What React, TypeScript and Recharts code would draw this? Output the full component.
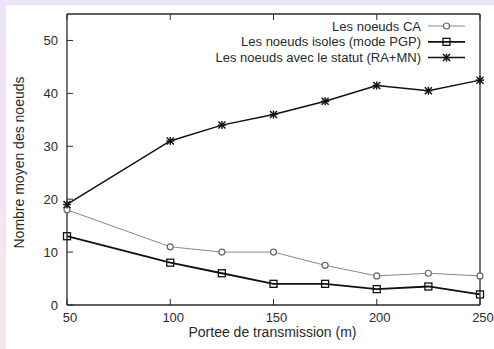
import React from "react";
import { LineChart, Line, XAxis, YAxis, Legend } from "recharts";

const distances = [50, 100, 125, 150, 175, 200, 225, 250];
const caValues = [18, 11, 10, 10, 7.5, 5.5, 6, 5.5];
const pgpValues = [13, 8, 6, 4, 4, 3, 3.5, 2];
const ramnValues = [19, 31, 34, 36, 38.5, 41.5, 40.5, 42.5];

const xTicks = [50, 100, 150, 200, 250];
const yTicks = [0, 10, 20, 30, 40, 50];

const seriesKeys = ["ca", "pgp", "ramn"];
const seriesNames: any = {
    ca: "Les noeuds CA",
    pgp: "Les noeuds isoles (mode PGP)",
    ramn: "Les noeuds avec le statut (RA+MN)",
};

const data = distances.map((d, i) => ({
    d,
    ca: caValues[i],
    pgp: pgpValues[i],
    ramn: ramnValues[i],
}));

const FONT = "'Liberation Sans', Arial, Helvetica, sans-serif";
const INK = "#2a2a2a";
const FS = 13;

const Circle = ({ cx, cy }: any) => (
    <circle cx={cx} cy={cy} r={3} fill="#fff" stroke="#666" strokeWidth={1.2} />
);
const Square = ({ cx, cy }: any) => (
    <rect x={cx - 3.5} y={cy - 3.5} width={7} height={7} fill="none" stroke="#111" strokeWidth={1.3} />
);
const Star = ({ cx, cy }: any) => (
    <g stroke="#111" strokeWidth={1.4}>
        <line x1={cx - 3.5} y1={cy - 3.5} x2={cx + 3.5} y2={cy + 3.5} />
        <line x1={cx - 3.5} y1={cy + 3.5} x2={cx + 3.5} y2={cy - 3.5} />
        <line x1={cx - 4} y1={cy} x2={cx + 4} y2={cy} />
        <line x1={cx} y1={cy - 4} x2={cx} y2={cy + 4} />
    </g>
);

const dotFor = (Shape: any) => (props: any) => (
    <Shape key={`dot-${props.index}`} cx={props.cx} cy={props.cy} />
);

// gnuplot style ticks: pointing inwards, labels outside
const BottomTick = ({ x, y, payload }: any) => (
    <g>
        <line x1={x} y1={y} x2={x} y2={y - 6} stroke={INK} />
        <text x={x + 3} y={y + 12} dy="0.36em" textAnchor="middle" fontSize={FS} fontFamily={FONT} fill={INK}>
            {payload.value}
        </text>
    </g>
);
const LeftTick = ({ x, y, payload }: any) => (
    <g>
        <line x1={x} y1={y} x2={x + 6} y2={y} stroke={INK} />
        <text x={x - 9} y={y} dy="0.36em" textAnchor="end" fontSize={FS} fontFamily={FONT} fill={INK}>
            {payload.value}
        </text>
    </g>
);
const TopTick = ({ x, y }: any) => <line x1={x} y1={y} x2={x} y2={y + 6} stroke={INK} />;
const RightTick = ({ x, y }: any) => <line x1={x} y1={y} x2={x - 6} y2={y} stroke={INK} />;

const styles: any = {
    ca: { stroke: "#888", width: 1, Shape: Circle },
    pgp: { stroke: "#111", width: 1.8, Shape: Square },
    ramn: { stroke: "#111", width: 1.5, Shape: Star },
};

const LegendBox = () => (
    <svg width={300} height={50}>
        {seriesKeys.map((k, i) => {
            const s = styles[k];
            const y = 8 + i * 15.8;
            return (
                <g key={k}>
                    <text x={251} y={y} dy="0.36em" textAnchor="end" fontSize={FS} fontFamily={FONT} fill={INK}>
                        {seriesNames[k]}
                    </text>
                    <line x1={258} y1={y} x2={295} y2={y} stroke={s.stroke} strokeWidth={s.width} />
                    <s.Shape cx={276.5} cy={y} />
                </g>
            );
        })}
    </svg>
);

const YLabel = ({ viewBox }: any) => {
    const cy = viewBox.y + viewBox.height / 2 + 3;
    return (
        <text x={19} y={cy} transform={`rotate(-90 19 ${cy})`} dy="0.36em" textAnchor="middle" fontSize={14} fontFamily={FONT} fill={INK}>
            Nombre moyen des noeuds
        </text>
    );
};
const XLabel = ({ viewBox }: any) => (
    <text x={viewBox.x + viewBox.width / 2 - 1} y={332} dy="0.36em" textAnchor="middle" fontSize={14} fontFamily={FONT} fill={INK}>
        Portee de transmission (m)
    </text>
);

export default function App() {
    return (
        <div
            style={{
                position: "relative",
                width: 494,
                height: 349,
                background: "linear-gradient(to bottom, #ece4f4, #f6e5ee)",
            }}
        >
            <style>{`body{margin:0}`}</style>
            <div style={{ position: "absolute", left: 6, top: 5, width: 488, height: 344, background: "#fff" }} />
            <div style={{ position: "absolute", left: 0, top: 0 }}>
                <LineChart width={494} height={349} data={data} margin={{ top: 0, right: 0, left: 0, bottom: 0 }}>
                    <XAxis
                        dataKey="d"
                        type="number"
                        domain={[50, 250]}
                        ticks={xTicks}
                        height={44}
                        tickSize={0}
                        tickMargin={0}
                        tick={<BottomTick />}
                        axisLine={{ stroke: INK, strokeWidth: 1.3 }}
                        tickLine={false}
                        label={<XLabel />}
                    />
                    <XAxis
                        xAxisId="top"
                        orientation="top"
                        dataKey="d"
                        type="number"
                        domain={[50, 250]}
                        ticks={xTicks}
                        height={14}
                        tickSize={0}
                        tickMargin={0}
                        tick={<TopTick />}
                        axisLine={{ stroke: INK, strokeWidth: 1.3 }}
                        tickLine={false}
                    />
                    <YAxis
                        type="number"
                        domain={[0, 55]}
                        ticks={yTicks}
                        width={67}
                        tickSize={0}
                        tickMargin={0}
                        tick={<LeftTick />}
                        axisLine={{ stroke: INK, strokeWidth: 1.3 }}
                        tickLine={false}
                        label={<YLabel />}
                    />
                    <YAxis
                        yAxisId="right"
                        orientation="right"
                        type="number"
                        domain={[0, 55]}
                        ticks={yTicks}
                        width={14}
                        tickSize={0}
                        tickMargin={0}
                        tick={<RightTick />}
                        axisLine={{ stroke: INK, strokeWidth: 1.3 }}
                        tickLine={false}
                    />
                    <Legend
                        layout="horizontal"
                        verticalAlign="middle"
                        align="center"
                        content={<LegendBox />}
                        wrapperStyle={{ position: "absolute", left: 170, top: 18, width: 300, height: 50 }}
                    />
                    <Line
                        dataKey="ca"
                        name={seriesNames.ca}
                        stroke={styles.ca.stroke}
                        strokeWidth={styles.ca.width}
                        dot={dotFor(Circle)}
                        activeDot={false}
                        isAnimationActive={false}
                    />
                    <Line
                        dataKey="pgp"
                        name={seriesNames.pgp}
                        stroke={styles.pgp.stroke}
                        strokeWidth={styles.pgp.width}
                        dot={dotFor(Square)}
                        activeDot={false}
                        isAnimationActive={false}
                    />
                    <Line
                        dataKey="ramn"
                        name={seriesNames.ramn}
                        stroke={styles.ramn.stroke}
                        strokeWidth={styles.ramn.width}
                        dot={dotFor(Star)}
                        activeDot={false}
                        isAnimationActive={false}
                    />
                </LineChart>
            </div>
        </div>
    );
}
